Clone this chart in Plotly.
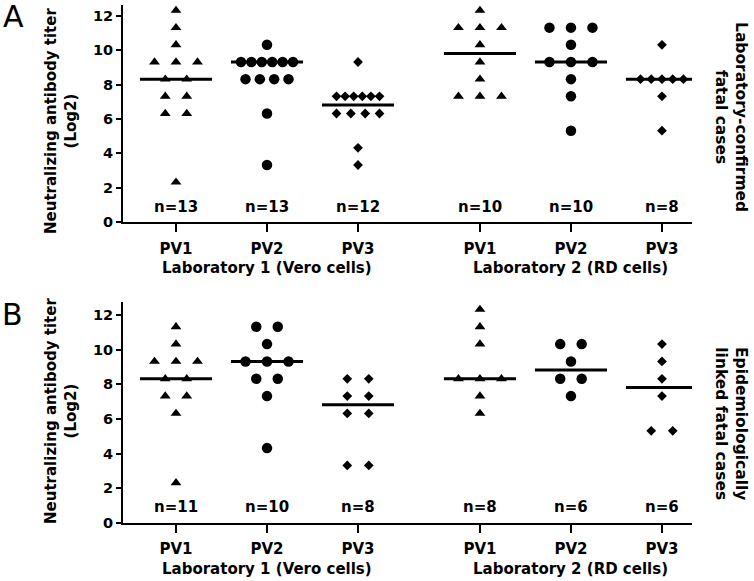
import plotly.graph_objects as go
from collections import Counter

# ---------------- data ----------------
group_labels = ["PV1", "PV2", "PV3", "PV1", "PV2", "PV3"]
group_pos = [1, 2, 3, 4.34, 5.34, 6.34]
group_symbols = ["triangle-up", "circle", "diamond", "triangle-up", "circle", "diamond"]
lab_labels = ["Laboratory 1 (Vero cells)", "Laboratory 2 (RD cells)"]
lab_label_pos = [2, 5.34]
y_ticks = [0, 2, 4, 6, 8, 10, 12]

# Panel A: laboratory-confirmed fatal cases (log2 titers)
a_pv1_lab1 = [12.32, 11.32, 10.32, 9.32, 9.32, 9.32, 8.32, 8.32, 7.32, 7.32, 6.32, 6.32, 2.32]
a_pv2_lab1 = [10.32, 9.32, 9.32, 9.32, 9.32, 9.32, 9.32, 8.32, 8.32, 8.32, 8.32, 6.32, 3.32]
a_pv3_lab1 = [9.32, 7.32, 7.32, 7.32, 7.32, 7.32, 7.32, 6.32, 6.32, 6.32, 6.32, 4.32, 3.32]
a_pv1_lab2 = [12.32, 11.32, 11.32, 11.32, 10.32, 9.32, 8.32, 7.32, 7.32, 7.32]
a_pv2_lab2 = [11.32, 11.32, 11.32, 10.32, 9.32, 9.32, 9.32, 8.32, 7.32, 5.32]
a_pv3_lab2 = [10.32, 8.32, 8.32, 8.32, 8.32, 8.32, 7.32, 5.32]
a_medians = [8.32, 9.32, 6.82, 9.82, 9.32, 8.32]
a_n = ["n=13", "n=13", "n=12", "n=10", "n=10", "n=8"]

# Panel B: epidemiologically linked fatal cases (log2 titers)
b_pv1_lab1 = [11.32, 10.32, 9.32, 9.32, 9.32, 8.32, 8.32, 7.32, 7.32, 6.32, 2.32]
b_pv2_lab1 = [11.32, 11.32, 10.32, 9.32, 9.32, 9.32, 8.32, 8.32, 7.32, 4.32]
b_pv3_lab1 = [8.32, 8.32, 7.32, 7.32, 6.32, 6.32, 3.32, 3.32]
b_pv1_lab2 = [12.32, 11.32, 10.32, 8.32, 8.32, 8.32, 7.32, 6.32]
b_pv2_lab2 = [10.32, 10.32, 9.32, 8.32, 8.32, 7.32]
b_pv3_lab2 = [10.32, 9.32, 8.32, 7.32, 5.32, 5.32]
b_medians = [8.32, 9.32, 6.82, 8.32, 8.82, 7.82]
b_n = ["n=11", "n=10", "n=8", "n=8", "n=6", "n=6"]

panel_letters = ["A", "B"]
panel_titles = ["Laboratory-confirmed<br>fatal cases", "Epidemiologically<br>linked fatal cases"]
y_title = "Neutralizing antibody titer<br>(Log2)"

# ---------------- layout constants ----------------
W, H = 754, 581
ML, MR, MT, MB = 123, 62, 5, 58
X_RANGE = [0.4176, 6.67]
PLOT_W = W - ML - MR
PX_PER_UNIT = PLOT_W / (X_RANGE[1] - X_RANGE[0])
MIN_GAP = {"triangle-up": 10.0, "circle": 10.4, "diamond": 8.6}
SIZES = {"triangle-up": 9.5, "circle": 10.5, "diamond": 7.5}
FONT = "DejaVu Sans"


def swarm_x(center, values, sym):
    counts = Counter(values)
    seen = Counter()
    xs = []
    for v in values:
        n = counts[v]
        if n == 1:
            off = 0.0
        else:
            gap = max(min(21.5, 43.0 / (n - 1)), MIN_GAP[sym])
            off = (seen[v] - (n - 1) / 2.0) * gap
        seen[v] += 1
        xs.append(center + off / PX_PER_UNIT)
    return xs


fig = go.Figure()

panels = [
    ([a_pv1_lab1, a_pv2_lab1, a_pv3_lab1, a_pv1_lab2, a_pv2_lab2, a_pv3_lab2], a_medians, a_n, "x", "y"),
    ([b_pv1_lab1, b_pv2_lab1, b_pv3_lab1, b_pv1_lab2, b_pv2_lab2, b_pv3_lab2], b_medians, b_n, "x2", "y2"),
]

MED_HALF = 0.396
for groups, medians, ns, xa, ya in panels:
    mx, my = [], []
    for p, m in zip(group_pos, medians):
        mx += [p - MED_HALF, p + MED_HALF, None]
        my += [m, m, None]
    fig.add_trace(go.Scatter(x=mx, y=my, mode="lines", line=dict(color="black", width=3),
                             xaxis=xa, yaxis=ya, showlegend=False, hoverinfo="skip"))
    for p, vals, sym in zip(group_pos, groups, group_symbols):
        fig.add_trace(go.Scatter(x=swarm_x(p, vals, sym), y=vals, mode="markers",
                                 marker=dict(symbol=sym, size=SIZES[sym], color="black",
                                             line=dict(width=0)),
                                 xaxis=xa, yaxis=ya, showlegend=False))

axis_common = dict(showline=True, linewidth=2, linecolor="black", ticks="outside",
                   tickwidth=1.5, tickcolor="black", showgrid=False, zeroline=False,
                   fixedrange=True)
xfont = dict(family=FONT, size=15, color="black", weight="bold")
yfont = dict(family=FONT, size=14.5, color="black", weight="bold")

plot_h = H - MT - MB
domA = [(523 - 222) / plot_h, 1.0]
domB = [0.0, (523 - 302) / plot_h]

fig.update_layout(
    width=W, height=H,
    margin=dict(l=ML, r=MR, t=MT, b=MB),
    paper_bgcolor="white", plot_bgcolor="white",
    xaxis=dict(domain=[0, 1], range=X_RANGE, anchor="y", tickvals=group_pos, ticktext=group_labels,
               ticklen=8, tickfont=xfont, ticklabelstandoff=4, **axis_common),
    yaxis=dict(domain=domA, range=[0, 12.64], anchor="x", tickvals=y_ticks, ticklen=5,
               tickfont=yfont, **axis_common),
    xaxis2=dict(domain=[0, 1], range=X_RANGE, anchor="y2", tickvals=group_pos, ticktext=group_labels,
                ticklen=8, tickfont=xfont, ticklabelstandoff=3, **axis_common),
    yaxis2=dict(domain=domB, range=[0, 12.75], anchor="x2", tickvals=y_ticks, ticklen=5,
                tickfont=yfont, **axis_common),
)

ann = []
bold15 = dict(family=FONT, size=15, color="black", weight="bold")
for (groups, medians, ns, xa, ya), ny in zip(panels, [0.88, 0.92]):
    for p, t in zip(group_pos, ns):
        ann.append(dict(x=p, y=ny, xref=xa, yref=ya, text=t, showarrow=False,
                        font=bold15, xanchor="center", yanchor="middle"))
    for p, t in zip(lab_label_pos, lab_labels):
        ann.append(dict(x=p, y=0, xref=xa, yref=ya + " domain", text=t, showarrow=False,
                        font=bold15, xanchor="center", yanchor="middle", yshift=-46))


def px_x(px):
    return (px - ML) / PLOT_W


def px_y(py):
    return (H - MB - py) / plot_h


for letter, (lx, ly) in zip(panel_letters, [(13, 17), (12, 314)]):
    ann.append(dict(x=px_x(lx), y=px_y(ly), xref="paper", yref="paper", text=letter,
                    showarrow=False, font=dict(family=FONT, size=30, color="black"),
                    xanchor="center", yanchor="middle"))

for cy in [121, 411]:
    ann.append(dict(x=px_x(61), y=px_y(cy), xref="paper", yref="paper", text=y_title,
                    showarrow=False, textangle=-90, font=bold15,
                    xanchor="center", yanchor="middle"))

title_font = dict(family=FONT, size=15.5, color="black", weight="bold")
for t, cy in zip(panel_titles, [117, 423]):
    ann.append(dict(x=px_x(731), y=px_y(cy), xref="paper", yref="paper", text=t,
                    showarrow=False, textangle=90, font=title_font,
                    xanchor="center", yanchor="middle"))

fig.update_layout(annotations=ann)
fig.write_html("out.html", config={"displayModeBar": False},
               post_script="document.body.style.margin='0px';document.body.style.overflow='hidden';")
